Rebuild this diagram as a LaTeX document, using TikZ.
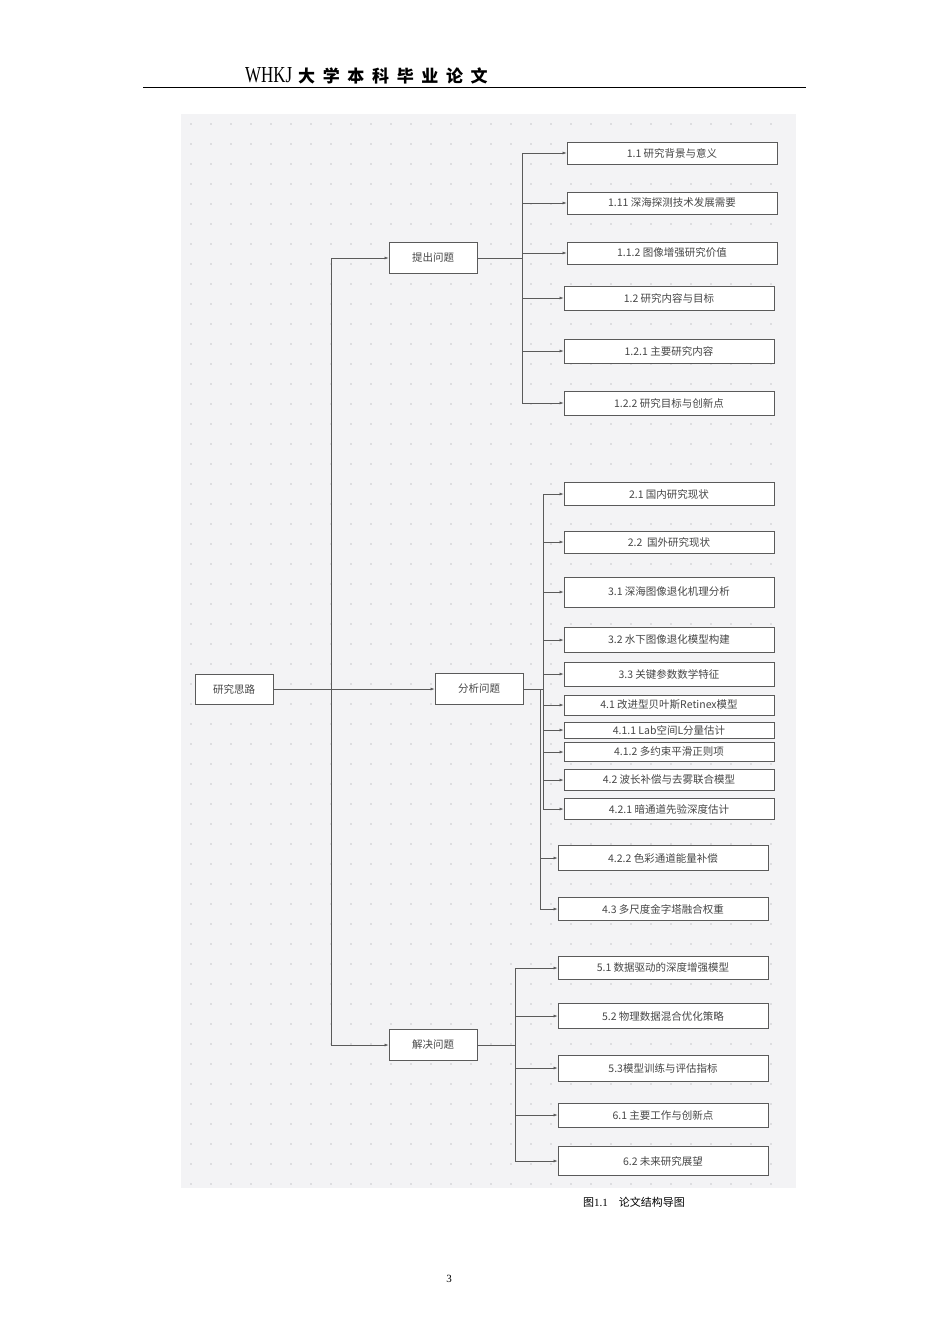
\documentclass[tikz,border=0pt]{standalone}
\usepackage{fontspec}
\setmainfont{Liberation Serif}
\newfontfamily\cjk{Noto Sans CJK SC}
\newfontfamily\cjkwide[LetterSpace=45]{Noto Sans CJK SC}
\usetikzlibrary{arrows.meta, positioning}
\definecolor{panelgray}{RGB}{243,243,245}
\definecolor{dotgray}{RGB}{200,200,204}
\definecolor{linegray}{RGB}{90,90,90}
\definecolor{textgray}{RGB}{70,70,70}

\begin{document}
\begin{tikzpicture}[
        x=1pt, y=-1pt,
        box/.style={rectangle, draw=linegray, fill=white, line width=0.9pt, minimum width=210pt, inner sep=0pt, align=center, font=\cjk\fontsize{10.5}{11}\selectfont, text=textgray},
        mid/.style={box, minimum width=88pt, minimum height=31pt},
        arr/.style={-{Latex[length=4pt, width=3pt]}, linegray, line width=0.6pt}
    ]
        \useasboundingbox (0,0) rectangle (950,1344);
        % page header and background
        \node[anchor=base west, inner sep=0pt] (head) at (245,82) {\resizebox{47pt}{15pt}{WHKJ}\hspace{6pt}{\cjkwide\bfseries\fontsize{17}{18}\selectfont 大学本科毕业论文}};
        \draw[line width=0.8pt] (143,87) -- (806,87);
        \fill[panelgray] (181,114) rectangle (796,1188);
        \foreach \i in {0,...,29}
            \foreach \j in {0,...,53}
                \fill[dotgray] (191+20*\i,124+20*\j) circle (0.9pt);

        % main nodes
        \node[mid, minimum width=78pt, minimum height=30pt] (root) at (234,689) {研究思路};
        \node[mid] (ask) at (433,258) {提出问题};
        \node[mid] (analyse) at (479,689) {分析问题};
        \node[mid] (solve) at (433,1045) {解决问题};

        % chapter 1
        \node[box, minimum height=22pt] (a1) at (672,153) {1.1 研究背景与意义};
        \node[box, minimum height=22pt] (a2) at (672,203) {1.11 深海探测技术发展需要};
        \node[box, minimum height=22pt] (a3) at (672,253) {1.1.2 图像增强研究价值};
        \node[box, minimum height=24pt] (a4) at (669,298) {1.2 研究内容与目标};
        \node[box, minimum height=24pt] (a5) at (669,351) {1.2.1 主要研究内容};
        \node[box, minimum height=24pt] (a6) at (669,403) {1.2.2 研究目标与创新点};

        % chapters 2-4
        \node[box, minimum height=23pt] (b1) at (669,494) {2.1 国内研究现状};
        \node[box, minimum height=22pt] (b2) at (669,542) {2.2 \ 国外研究现状};
        \node[box, minimum height=30pt] (b3) at (669,592) {3.1 深海图像退化机理分析};
        \node[box, minimum height=25pt] (b4) at (669,640) {3.2 水下图像退化模型构建};
        \node[box, minimum height=24pt] (b5) at (669,674) {3.3 关键参数数学特征};
        \node[box, minimum height=20pt] (b6) at (669,705) {4.1 改进型贝叶斯Retinex模型};
        \node[box, minimum height=16pt] (b7) at (669,730) {4.1.1 Lab空间L分量估计};
        \node[box, minimum height=19pt] (b8) at (669,752) {4.1.2 多约束平滑正则项};
        \node[box, minimum height=21pt] (b9) at (669,780) {4.2 波长补偿与去雾联合模型};
        \node[box, minimum height=21pt] (b10) at (669,809) {4.2.1 暗通道先验深度估计};
        \node[box, minimum height=25pt] (b11) at (663,858) {4.2.2 色彩通道能量补偿};
        \node[box, minimum height=23pt] (b12) at (663,909) {4.3 多尺度金字塔融合权重};

        % chapters 5-6
        \node[box, minimum height=23pt] (c1) at (663,968) {5.1 数据驱动的深度增强模型};
        \node[box, minimum height=25pt] (c2) at (663,1016) {5.2 物理数据混合优化策略};
        \node[box, minimum height=26pt] (c3) at (663,1068) {5.3模型训练与评估指标};
        \node[box, minimum height=24pt] (c4) at (663,1115) {6.1 主要工作与创新点};
        \node[box, minimum height=29pt] (c5) at (663,1161) {6.2 未来研究展望};

        % connectors
        \draw[arr] (root.east) -- (analyse.west);
        \draw[arr] (root.east) -- ++(58,0) |- (ask.west);
        \draw[arr] (root.east) -- ++(58,0) |- (solve.west);
        \foreach \n in {a1,a2,a3,a4,a5,a6}
            \draw[arr] (ask.east) -- ++(45,0) |- (\n.west);
        \foreach \n in {b1,b2,b3,b4,b5,b6,b7,b8,b9,b10}
            \draw[arr] (analyse.east) -- ++(20,0) |- (\n.west);
        \foreach \n in {b11,b12}
            \draw[arr] (analyse.east) -- ++(17,0) |- (\n.west);
        \foreach \n in {c1,c2,c3,c4,c5}
            \draw[arr] (solve.east) -- ++(38,0) |- (\n.west);

        % caption and page number
        \node[font=\fontsize{11}{12}\selectfont] (caption) at (634,1202) {{\cjk 图}1.1\quad {\cjk 论文结构导图}};
        \node[font=\fontsize{11}{12}\selectfont] (page) at (449,1279) {3};
    \end{tikzpicture}
\end{document}
